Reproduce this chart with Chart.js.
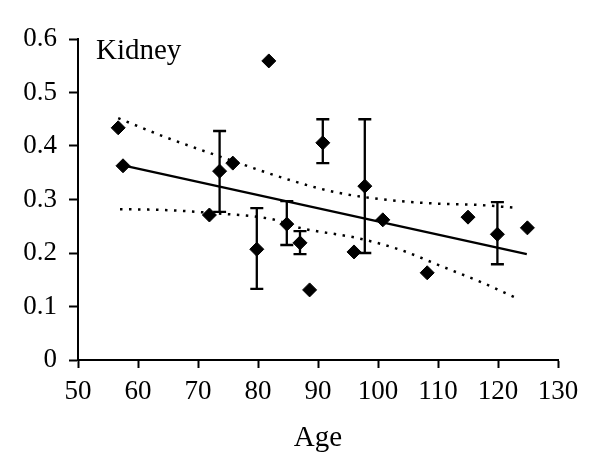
<!DOCTYPE html>
<html>
<head>
<meta charset="utf-8">
<script src="https://cdn.jsdelivr.net/npm/chart.js@4"></script>
<style>
  html, body { margin: 0; padding: 0; background: #fff; }
  #wrap { width: 600px; height: 475px; }
</style>
</head>
<body>
<div id="wrap"><canvas id="kidney-chart"></canvas></div>
<script>
// values
const ages = [56.7, 57.5, 71.9, 73.6, 75.8, 79.8, 81.8, 84.8, 87, 88.6, 90.8, 96, 97.8, 100.8, 108.2, 115, 119.9, 124.9];
const values = [0.434, 0.363, 0.271, 0.353, 0.368, 0.207, 0.559, 0.254, 0.219, 0.131, 0.406, 0.202, 0.325, 0.262, 0.163, 0.267, 0.235, 0.247];
const errLow = [null, null, null, 0.277, null, 0.133, null, 0.215, 0.198, null, 0.368, null, 0.200, null, null, null, 0.179, null];
const errHigh = [null, null, null, 0.428, null, 0.284, null, 0.297, 0.241, null, 0.450, null, 0.450, null, null, null, 0.295, null];

const fitX = [57.5, 124.8];
const fitY = [0.364, 0.198];

const upperX = [56.7, 64, 75.8, 85.7, 93.6, 103.7, 110.4, 116.5, 123.4];
const upperY = [0.452, 0.419, 0.372, 0.335, 0.312, 0.297, 0.292, 0.290, 0.284];
const lowerX = [57, 65, 72, 82.4, 87, 96.5, 103.7, 110.4, 117.5, 123.4];
const lowerY = [0.282, 0.280, 0.275, 0.263, 0.247, 0.228, 0.206, 0.176, 0.144, 0.114];

const xTicks = [50, 60, 70, 80, 90, 100, 110, 120, 130];
const yTicks = [0, 0.1, 0.2, 0.3, 0.4, 0.5, 0.6];

const serif = '"Liberation Serif", "DejaVu Serif", serif';
const pairs = (xs, ys) => xs.map((x, i) => ({ x: x, y: ys[i] }));

const errorBars = {
  id: "errorBars",
  afterDatasetsDraw(chart) {
    const { ctx, scales } = chart;
    ctx.save();
    ctx.strokeStyle = "#000";
    ctx.lineWidth = 2.3;
    ages.forEach((a, i) => {
      if (errLow[i] == null) return;
      const px = scales.x.getPixelForValue(a);
      const lo = scales.y.getPixelForValue(errLow[i]);
      const hi = scales.y.getPixelForValue(errHigh[i]);
      ctx.beginPath();
      ctx.moveTo(px, lo); ctx.lineTo(px, hi);
      ctx.moveTo(px - 6.5, lo); ctx.lineTo(px + 6.5, lo);
      ctx.moveTo(px - 6.5, hi); ctx.lineTo(px + 6.5, hi);
      ctx.stroke();
    });
    ctx.restore();
  }
};

const label = {
  id: "label",
  afterDraw(chart) {
    const { ctx, chartArea } = chart;
    ctx.save();
    ctx.fillStyle = "#000";
    ctx.font = "29px " + serif;
    ctx.textBaseline = "alphabetic";
    ctx.fillText("Kidney", chartArea.left + 18, chartArea.top + 20);
    ctx.restore();
  }
};

new Chart(document.getElementById("kidney-chart"), {
  type: "scatter",
  data: {
    datasets: [
      {
        data: pairs(ages, values),
        pointStyle: "rectRot",
        pointRadius: 7,
        pointBorderWidth: 1,
        backgroundColor: "#000",
        borderColor: "#000",
        order: 0
      },
      {
        type: "line",
        data: pairs(fitX, fitY),
        borderColor: "#000",
        borderWidth: 2.3,
        pointRadius: 0,
        fill: false,
        order: 1
      },
      {
        type: "line",
        data: pairs(upperX, upperY),
        borderColor: "#000",
        borderWidth: 2.5,
        borderDash: [2.5, 6.5],
        cubicInterpolationMode: "monotone",
        pointRadius: 0,
        fill: false,
        order: 2
      },
      {
        type: "line",
        data: pairs(lowerX, lowerY),
        borderColor: "#000",
        borderWidth: 2.5,
        borderDash: [2.5, 6.5],
        cubicInterpolationMode: "monotone",
        pointRadius: 0,
        fill: false,
        order: 2
      }
    ]
  },
  options: {
    responsive: true,
    maintainAspectRatio: false,
    animation: false,
    layout: { padding: { left: 0, top: 39, right: 42, bottom: 0 } },
    plugins: { legend: { display: false }, tooltip: { enabled: false } },
    scales: {
      x: {
        type: "linear",
        min: 50,
        max: 130,
        afterBuildTicks: (s) => { s.ticks = xTicks.map(v => ({ value: v })); },
        afterFit: (s) => { s.height = 115; },
        border: { display: true, color: "#000", width: 2 },
        grid: { display: true, drawOnChartArea: false, drawTicks: true, tickLength: 8, tickColor: "#000", tickWidth: 2 },
        ticks: { color: "#000", padding: 8, font: { family: serif, size: 27 }, maxRotation: 0 },
        title: { display: true, text: "Age", color: "#000", font: { family: serif, size: 29 }, padding: { top: 0, bottom: 19 } }
      },
      y: {
        type: "linear",
        min: 0,
        max: 0.6,
        afterBuildTicks: (s) => { s.ticks = yTicks.map(v => ({ value: v })); },
        afterFit: (s) => { s.width = 78; },
        border: { display: true, color: "#000", width: 2 },
        grid: { display: true, drawOnChartArea: false, drawTicks: true, tickLength: 9, tickColor: "#000", tickWidth: 2 },
        ticks: { color: "#000", padding: 12, font: { family: serif, size: 27 } }
      }
    }
  },
  plugins: [errorBars, label]
});
</script>
</body>
</html>
